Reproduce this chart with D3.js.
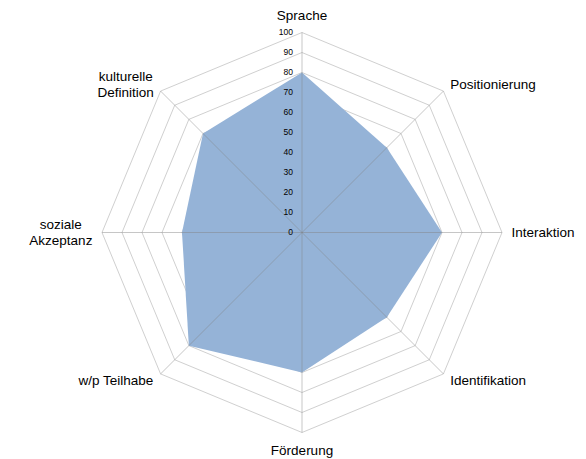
<!DOCTYPE html>
<html>
<head>
<meta charset="utf-8">
<script src="https://cdn.jsdelivr.net/npm/d3@7"></script>
<style>
  body { margin: 0; background: #fff; }
  text { font-family: "Liberation Sans", Arial, sans-serif; fill: #000; }
</style>
</head>
<body>
<div id="chart"></div>
<script>
// categories, clockwise from top
const categories = [
    ["Sprache"],
    ["Positionierung"],
    ["Interaktion"],
    ["Identifikation"],
    ["Förderung"],
    ["w/p Teilhabe"],
    ["soziale", "Akzeptanz"],
    ["kulturelle", "Definition"]
];
const values = [80, 60, 70, 60, 70, 80, 60, 70];
const ticks = [0, 10, 20, 30, 40, 50, 60, 70, 80, 90, 100];

const width = 586, height = 459;
const cx = 302, cy = 232.5, R = 200;

const svg = d3.select("#chart").append("svg")
    .attr("width", width)
    .attr("height", height);

const g = svg.append("g").attr("transform", `translate(${cx},${cy})`);

const r = d3.scaleLinear().domain([0, 100]).range([0, R]);
const angle = d3.scaleLinear().domain([0, categories.length]).range([0, 2 * Math.PI]);

const pt = (i, v) => [r(v) * Math.sin(angle(i)), -r(v) * Math.cos(angle(i))];

// grid rings (octagons)
const ring = d3.line().curve(d3.curveLinearClosed);
g.append("g").attr("class", "rings")
    .selectAll("path")
    .data(ticks.filter(t => t > 0))
    .join("path")
    .attr("d", t => ring(categories.map((c, i) => pt(i, t))))
    .attr("fill", "none")
    .attr("stroke", "#d0d0d0")
    .attr("stroke-width", 1);

// filled series
g.append("path")
    .attr("d", ring(values.map((v, i) => pt(i, v))))
    .attr("fill", "#95b3d7")
    .attr("stroke", "none");

// spokes on top
g.append("g").attr("class", "spokes")
    .selectAll("line")
    .data(categories)
    .join("line")
    .attr("x1", 0).attr("y1", 0)
    .attr("x2", (d, i) => pt(i, 100)[0])
    .attr("y2", (d, i) => pt(i, 100)[1])
    .attr("stroke", "#808080")
    .attr("stroke-opacity", 0.45)
    .attr("stroke-width", 1);

// value tick labels along the top axis
g.append("g").attr("class", "ticks")
    .selectAll("text")
    .data(ticks)
    .join("text")
    .attr("x", -9)
    .attr("y", t => -r(t))
    .attr("dy", "0.35em")
    .attr("text-anchor", "end")
    .attr("font-size", "8.5px")
    .text(t => t);

// category labels
const off = 9.5;
const labels = g.append("g").attr("class", "labels");
categories.forEach((lines, i) => {
    const s = Math.sin(angle(i)), c = Math.cos(angle(i));
    const [vx, vy] = pt(i, 100);
    let x = vx + off * s, y = vy - off * c;
    const lh = 16.5;
    const t = labels.append("text").attr("font-size", "13.5px");
    if (Math.abs(s) < 0.01) {
        // top / bottom
        t.attr("text-anchor", "middle").attr("x", x)
            .attr("y", c > 0 ? vy - 12.5 : vy + 22)
            .text(lines[0]);
        return;
    }
    const n = lines.length;
    t.attr("text-anchor", "middle");
    lines.forEach((l, k) => {
        t.append("tspan")
            .attr("x", 0)
            .attr("y", (k - (n - 1) / 2) * lh)
            .attr("dy", "0.35em")
            .text(l);
    });
    const w = t.node().getBBox().width;
    const tx = s > 0 ? x + w / 2 : x - w / 2;
    t.attr("transform", `translate(${tx},${y})`);
});
</script>
</body>
</html>
